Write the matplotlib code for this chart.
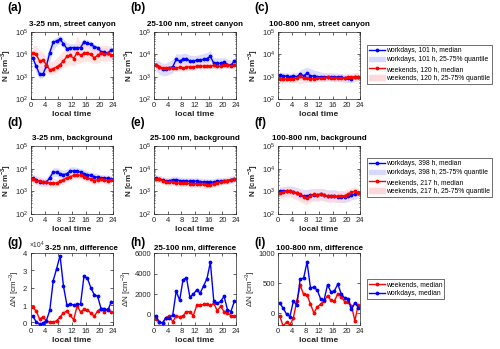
import matplotlib
matplotlib.use("Agg")
import matplotlib.pyplot as plt
from matplotlib.lines import Line2D
from matplotlib.patches import Patch
from matplotlib.ticker import ScalarFormatter, LogLocator, NullFormatter
import numpy as np

plt.rcParams['font.family'] = ['Liberation Sans', 'DejaVu Sans']
plt.rcParams['mathtext.fontset'] = 'custom'
plt.rcParams['mathtext.rm'] = 'Liberation Sans'
plt.rcParams['mathtext.bf'] = 'Liberation Sans:bold'

hours = np.arange(0.5, 24, 1.0)

# (a) 3-25 nm, street canyon
a_wd = [7e3, 3e3, 1.3e3, 1.3e3, 3e3, 1.2e4, 3.5e4, 4e4, 4.7e4, 3e4, 1.8e4, 2e4,
        2e4, 2e4, 2e4, 3.5e4, 3.2e4, 2.8e4, 2.2e4, 2e4, 1.3e4, 1.3e4, 1.1e4, 1.6e4]
a_wd_lo = [4e3, 1.5e3, 8e2, 9e2, 1.5e3, 5e3, 1.5e4, 2.5e4, 3e4, 2e4, 1.2e4, 1.2e4,
           1.2e4, 1.2e4, 1.3e4, 2e4, 2e4, 1.5e4, 1.2e4, 1e4, 8e3, 8e3, 7e3, 9e3]
a_wd_hi = [1.5e4, 6e3, 3e3, 3e3, 8e3, 2.5e4, 5e4, 6e4, 7e4, 5e4, 3.5e4, 3e4,
           3e4, 3e4, 3.5e4, 5e4, 4.5e4, 4e4, 3e4, 2.5e4, 2e4, 2e4, 1.8e4, 2.5e4]
a_we = [1.2e4, 1e4, 5e3, 5.5e3, 3.5e3, 2e3, 2.3e3, 2.7e3, 3.5e3, 5e3, 8e3, 9e3,
        6.5e3, 1.2e4, 9e3, 1.1e4, 1.1e4, 1e4, 7e3, 9e3, 1.1e4, 1e4, 1.1e4, 9.5e3]
a_we_lo = [6e3, 3e3, 2e3, 2e3, 1.5e3, 1.2e3, 1.3e3, 1.5e3, 2e3, 2.5e3, 3e3, 3.5e3,
           3e3, 4e3, 4e3, 5e3, 5e3, 4.5e3, 4e3, 4e3, 5e3, 5e3, 5e3, 5e3]
a_we_hi = [2.5e4, 2.5e4, 1.5e4, 1.2e4, 8e3, 5e3, 5e3, 7e3, 1e4, 1.5e4, 2e4, 2.5e4,
           2e4, 7e4, 3e4, 2.5e4, 2.5e4, 2e4, 1.8e4, 2e4, 2.5e4, 2.5e4, 2.5e4, 2e4]

# (b) 25-100 nm, street canyon
b_wd = [3.5e3, 2.8e3, 2.2e3, 2.2e3, 2.5e3, 2.8e3, 6e3, 5e3, 6e3, 6.5e3, 5e3, 5e3,
        5.5e3, 5.5e3, 6e3, 6.5e3, 8e3, 4e3, 4e3, 4e3, 4.5e3, 3.5e3, 3.2e3, 5e3]
b_wd_lo = [2e3, 1.3e3, 1.1e3, 1.1e3, 1.3e3, 1.5e3, 3.5e3, 3e3, 3.5e3, 3.5e3, 3e3, 3e3,
           3e3, 3.2e3, 3.5e3, 4e3, 5e3, 2.8e3, 2.8e3, 2.8e3, 3e3, 2.5e3, 2.3e3, 3e3]
b_wd_hi = [6e3, 5e3, 4e3, 4e3, 5e3, 6e3, 1.1e4, 1e4, 1.1e4, 1.1e4, 9e3, 9e3,
           9e3, 1e4, 1.1e4, 1.2e4, 1.5e4, 7e3, 7e3, 7e3, 7e3, 6e3, 5.5e3, 7e3]
b_we = [3.2e3, 2.6e3, 2.4e3, 2.4e3, 2.5e3, 2.4e3, 2.5e3, 2.6e3, 2.5e3, 2.6e3, 2.8e3, 2.6e3,
        3e3, 3e3, 3e3, 3e3, 3e3, 3.2e3, 3e3, 3e3, 3.5e3, 3.3e3, 3.1e3, 3.2e3]
b_we_lo = [2.3e3, 1.8e3, 1.7e3, 1.7e3, 1.8e3, 1.7e3, 1.8e3, 1.8e3, 1.7e3, 1.8e3, 2e3, 1.9e3,
           2.2e3, 2.2e3, 2.2e3, 2.2e3, 2.2e3, 2.3e3, 2.2e3, 2.2e3, 2.5e3, 2.4e3, 2.3e3, 2.3e3]
b_we_hi = [4.5e3, 3.8e3, 3.5e3, 3.5e3, 3.6e3, 3.5e3, 3.8e3, 4e3, 4e3, 4.2e3, 4.5e3, 4.2e3,
           4.5e3, 4.5e3, 4.3e3, 4.3e3, 4.3e3, 4.6e3, 4.3e3, 4.3e3, 5e3, 4.8e3, 4.5e3, 4.6e3]

# (c) 100-800 nm, street canyon
c_wd = [1200, 1100, 1050, 1000, 1100, 1000, 1300, 1100, 1400, 1100, 1050, 1000,
        1000, 950, 1000, 1000, 1000, 950, 950, 850, 850, 800, 1000, 1000]
c_wd_lo = [750, 700, 700, 650, 700, 650, 800, 700, 850, 700, 700, 650,
           650, 650, 650, 650, 650, 600, 600, 550, 550, 550, 650, 650]
c_wd_hi = [1600, 1500, 1500, 1400, 1500, 1500, 2000, 2300, 2700, 2300, 2000, 1800,
           1600, 1500, 1500, 1500, 1500, 1400, 1400, 1300, 1300, 1200, 1500, 1500]
c_we = [750, 750, 800, 800, 800, 850, 1050, 850, 850, 800, 800, 850,
        850, 900, 950, 900, 900, 850, 900, 900, 950, 950, 1000, 950]
c_we_lo = [500, 500, 550, 550, 550, 550, 450, 550, 550, 550, 550, 600,
           600, 600, 650, 600, 600, 600, 600, 600, 650, 650, 650, 650]
c_we_hi = [1100, 1100, 1200, 1200, 1200, 1300, 1500, 1200, 1200, 1200, 1200, 1200,
           1200, 1300, 1300, 1300, 1300, 1300, 1300, 1300, 1400, 1400, 1500, 1400]

# (d) 3-25 nm, background
d_wd = [3.8e3, 3.3e3, 2.7e3, 2.5e3, 2.5e3, 4e3, 7e3, 7e3, 6e3, 5.5e3, 6e3, 8e3,
        8e3, 7.5e3, 7e3, 6e3, 5.5e3, 5e3, 4.5e3, 4.2e3, 4e3, 3.8e3, 3.8e3, 3.5e3]
d_wd_lo = [2.5e3, 2.2e3, 1.8e3, 1.7e3, 1.7e3, 2.5e3, 4.5e3, 4.5e3, 4e3, 3.7e3, 4e3, 5.5e3,
           5.5e3, 5e3, 4.8e3, 4.2e3, 3.8e3, 3.5e3, 3.2e3, 3e3, 2.8e3, 2.7e3, 2.6e3, 2.5e3]
d_wd_hi = [5.5e3, 5e3, 4e3, 3.7e3, 3.7e3, 6.5e3, 1.1e4, 1.1e4, 9.5e3, 8.5e3, 9.5e3, 1.2e4,
           1.2e4, 1.1e4, 1.05e4, 9e3, 8e3, 7e3, 6.5e3, 6e3, 5.5e3, 5.3e3, 5.2e3, 5e3]
d_we = [3.5e3, 3e3, 2.8e3, 2.5e3, 2.5e3, 2.3e3, 2.3e3, 2.3e3, 2.8e3, 3.3e3, 4e3, 4.5e3,
        5e3, 5.5e3, 5e3, 4.5e3, 4e3, 3.5e3, 3e3, 3.3e3, 3.5e3, 3.3e3, 3e3, 3.3e3]
d_we_lo = [2.2e3, 2e3, 1.8e3, 1.6e3, 1.6e3, 1.5e3, 1.5e3, 1.5e3, 1.8e3, 2.1e3, 2.6e3, 3e3,
           3.3e3, 3.6e3, 3.3e3, 3e3, 2.6e3, 2.3e3, 2e3, 2.2e3, 2.3e3, 2.2e3, 2e3, 2.2e3]
d_we_hi = [5.5e3, 4.8e3, 4.4e3, 4e3, 4e3, 3.7e3, 3.7e3, 3.7e3, 4.4e3, 5.2e3, 6.3e3, 7e3,
           8e3, 8.5e3, 8e3, 7e3, 6.3e3, 5.5e3, 4.8e3, 5.2e3, 5.5e3, 5.2e3, 4.8e3, 5.2e3]

# (e) 25-100 nm, background
e_wd = [3.8e3, 3.5e3, 3.2e3, 2.8e3, 3e3, 3.2e3, 3.3e3, 3e3, 2.8e3, 2.8e3, 2.8e3, 2.8e3,
        2.8e3, 2.7e3, 2.6e3, 2.5e3, 2.5e3, 2.6e3, 2.8e3, 2.8e3, 3e3, 3e3, 3.3e3, 3.6e3]
e_wd_lo = [2.7e3, 2.5e3, 2.3e3, 2e3, 2.1e3, 2.3e3, 2.3e3, 2.1e3, 2e3, 2e3, 2e3, 2e3,
           2e3, 1.9e3, 1.8e3, 1.8e3, 1.8e3, 1.8e3, 2e3, 2e3, 2.1e3, 2.1e3, 2.3e3, 2.5e3]
e_wd_hi = [5.3e3, 5e3, 4.5e3, 4e3, 4.2e3, 4.5e3, 4.7e3, 4.3e3, 4e3, 4e3, 4e3, 4e3,
           4e3, 3.8e3, 3.7e3, 3.6e3, 3.6e3, 3.7e3, 4e3, 4e3, 4.2e3, 4.2e3, 4.6e3, 5e3]
e_we = [3.6e3, 3.4e3, 3e3, 2.7e3, 2.6e3, 2.6e3, 2.4e3, 2.3e3, 2.3e3, 2.3e3, 2.2e3, 2.2e3,
        2.2e3, 2.1e3, 2.1e3, 2e3, 2e3, 2.2e3, 2.4e3, 2.6e3, 2.8e3, 3e3, 3.2e3, 3.4e3]
e_we_lo = [2.5e3, 2.4e3, 2.1e3, 1.9e3, 1.8e3, 1.8e3, 1.7e3, 1.6e3, 1.6e3, 1.6e3, 1.5e3, 1.5e3,
           1.5e3, 1.4e3, 1.4e3, 1.4e3, 1.4e3, 1.5e3, 1.7e3, 1.8e3, 2e3, 2.1e3, 2.2e3, 2.4e3]
e_we_hi = [5.2e3, 5e3, 4.4e3, 4e3, 3.8e3, 3.8e3, 3.5e3, 3.4e3, 3.4e3, 3.4e3, 3.2e3, 3.2e3,
           3.2e3, 3.1e3, 3.1e3, 3e3, 3e3, 3.2e3, 3.5e3, 3.8e3, 4.1e3, 4.4e3, 4.7e3, 5e3]

# (f) 100-800 nm, background
f_wd = [1000, 1000, 1050, 1050, 950, 850, 700, 600, 600, 700, 700, 700,
        750, 700, 600, 600, 650, 550, 550, 550, 600, 700, 750, 850]
f_wd_lo = [600, 600, 650, 650, 580, 500, 400, 350, 350, 400, 400, 400,
           430, 400, 350, 350, 380, 320, 320, 320, 350, 420, 450, 520]
f_wd_hi = [1600, 1600, 1700, 1750, 1650, 1500, 1300, 1200, 1200, 1300, 1300, 1300,
           1350, 1300, 1150, 1150, 1200, 1050, 1050, 1000, 1050, 1150, 1250, 1400]
f_we = [850, 950, 1000, 1000, 900, 850, 750, 550, 500, 650, 750, 700,
        750, 700, 600, 600, 600, 600, 600, 650, 750, 900, 1000, 850]
f_we_lo = [480, 520, 560, 560, 480, 420, 340, 280, 260, 320, 380, 360,
           400, 380, 330, 330, 330, 330, 340, 370, 420, 500, 560, 480]
f_we_hi = [1350, 1500, 1550, 1550, 1450, 1350, 1200, 950, 900, 1100, 1200, 1150,
           1200, 1150, 1000, 1000, 1000, 1000, 1000, 1100, 1250, 1450, 1600, 1400]

# (g)-(i) differences street canyon - background
g_we = [0.9e4, 0.65e4, 0.2e4, 0.3e4, 0.1e4, 0.0, 0.0, 0.1e4, 0.3e4, 0.55e4, 0.65e4, 0.4e4,
        0.15e4, 0.95e4, 0.6e4, 0.75e4, 0.7e4, 0.55e4, 0.35e4, 0.65e4, 0.8e4, 0.6e4, 0.75e4, 0.6e4]
g_wd = [0.35e4, 0.05e4, -0.1e4, -0.05e4, 0.1e4, 0.7e4, 2.4e4, 3.1e4, 3.85e4, 2.1e4, 1.0e4, 1.05e4,
        1.0e4, 1.05e4, 1.05e4, 2.65e4, 2.55e4, 2.0e4, 1.6e4, 1.5e4, 0.8e4, 0.8e4, 0.7e4, 1.2e4]
h_we = [-400, -700, -800, -300, -100, -700, -100, -200, -100, 300, 300, -100,
        900, 900, 1000, 1000, 900, 1100, 400, 800, 300, 200, -100, -100]
h_wd = [-100, -700, -800, -300, -300, 0, 2300, 1400, 3400, 3600, 1700, 2000,
        2400, 2100, 2800, 3500, 5100, 1300, 1100, 1300, 1800, 500, 300, 1300]
i_we = [-50, -220, -150, -200, -80, 200, 460, 310, 300, 150, 0, 100,
        150, 200, 290, 210, 200, 320, 270, 190, 180, 120, -130, 140]
i_wd = [170, 80, -20, -60, 200, 130, 570, 580, 850, 420, 430, 380,
        230, 220, 470, 350, 370, 480, 320, 250, 240, 60, 170, 90]

titles = ["3-25 nm, street canyon", "25-100 nm, street canyon", "100-800 nm, street canyon",
          "3-25 nm, background", "25-100 nm, background", "100-800 nm, background",
          "3-25 nm, difference", "25-100 nm, difference", "100-800 nm, difference"]
letters = ["(a)", "(b)", "(c)", "(d)", "(e)", "(f)", "(g)", "(h)", "(i)"]

BLUE = "#0000FF"
RED = "#FF0000"
BLUE_F = "#D9D9FF"
RED_F = "#FFD9D9"
GREY = "#262626"

fig = plt.figure(figsize=(5.0, 3.49), dpi=100)

lefts = [31, 154, 278]
rows = [(32, 99), (146, 214), (253, 325)]
letter_y = [8, 123, 243]
W, H = 500.0, 349.0


def make_ax(r, c):
    top, bot = rows[r]
    ax = fig.add_axes([lefts[c] / W, 1 - bot / H, 82 / W, (bot - top) / H])
    ax.set_xlim(0, 24)
    ax.set_xticks(range(0, 25, 4))
    ax.tick_params(direction="in", length=2, width=0.5, labelsize=5.5,
                   colors=GREY, pad=2, top=True, right=True, which="both")
    for s in ax.spines.values():
        s.set_linewidth(0.5)
        s.set_color(GREY)
    ax.set_xlabel("local time", fontsize=6, fontweight="bold", color=GREY, labelpad=1.5)
    if r == 2 and c == 0:
        # title moved right to make room for the x10^4 offset text
        ax.set_title(titles[r * 3 + c], fontsize=5.8, fontweight="bold", pad=2.5,
                     x=0.17, y=1.0, ha="left")
    elif r == 2:
        ax.set_title(titles[r * 3 + c], fontsize=5.8, fontweight="bold", pad=2.5, y=1.0)
    else:
        ax.set_title(titles[r * 3 + c], fontsize=5.8, fontweight="bold", pad=4, y=1.0)
    fig.text((lefts[c] - 24) / W, 1 - letter_y[r] / H,
             letters[r * 3 + c], fontsize=8.5, fontweight="bold", va="center")
    return ax


conc = [
    (a_wd, a_wd_lo, a_wd_hi, a_we, a_we_lo, a_we_hi),
    (b_wd, b_wd_lo, b_wd_hi, b_we, b_we_lo, b_we_hi),
    (c_wd, c_wd_lo, c_wd_hi, c_we, c_we_lo, c_we_hi),
    (d_wd, d_wd_lo, d_wd_hi, d_we, d_we_lo, d_we_hi),
    (e_wd, e_wd_lo, e_wd_hi, e_we, e_we_lo, e_we_hi),
    (f_wd, f_wd_lo, f_wd_hi, f_we, f_we_lo, f_we_hi),
]

for k, (wd, wdl, wdh, we, wel, weh) in enumerate(conc):
    r, c = divmod(k, 3)
    ax = make_ax(r, c)
    ax.set_yscale("log")
    ax.set_ylim(1e2, 1e5)
    ax.set_yticks([1e2, 1e3, 1e4, 1e5])
    ax.yaxis.set_minor_locator(LogLocator(subs=np.arange(2, 10), numticks=20))
    ax.yaxis.set_minor_formatter(NullFormatter())
    ax.tick_params(which="minor", length=1)
    ax.fill_between(hours, wdl, wdh, color=BLUE_F, alpha=0.9, lw=0)
    ax.fill_between(hours, wel, weh, color=RED_F, alpha=0.7, lw=0)
    ax.plot(hours, wd, color=BLUE, lw=1.0, marker=".", ms=3.5)
    ax.plot(hours, we, color=RED, lw=1.0, marker=".", ms=3.5)
    ax.set_ylabel("N [cm$^{\\mathbf{-3}}$]", fontsize=5.8, fontweight="bold",
                  color=GREY, labelpad=1)

diffs = [(g_we, g_wd, (-0.15e4, 4e4), [0, 1e4, 2e4, 3e4, 4e4]),
         (h_we, h_wd, (-1000, 6000), [0, 2000, 4000, 6000]),
         (i_we, i_wd, (-200, 1000), [0, 500, 1000])]
for c, (we, wd, yl, yt) in enumerate(diffs):
    ax = make_ax(2, c)
    ax.plot(hours, we, color=RED, lw=1.0, marker=".", ms=3.5)
    ax.plot(hours, wd, color=BLUE, lw=1.0, marker=".", ms=3.5)
    ax.set_ylim(*yl)
    ax.set_yticks(yt)
    if c == 0:
        fmt = ScalarFormatter(useMathText=True)
        fmt.set_powerlimits((0, 0))
        ax.yaxis.set_major_formatter(fmt)
        off = ax.yaxis.get_offset_text()
        off.set_fontsize(4.8)
        off.set_color(GREY)
        off.set_x(-0.03)
    ax.set_ylabel("ΔN [cm$^{-3}$]", fontsize=5.8, color=GREY, labelpad=1)

# legends
leg_kw = dict(fontsize=4.9, frameon=True, fancybox=False, edgecolor="black",
              handlelength=2.3, handletextpad=0.15, labelspacing=0.35, borderpad=0.3,
              borderaxespad=0)


def med(col):
    return Line2D([], [], color=col, lw=1.0, marker=".", ms=3.5)


l1 = fig.legend([med(BLUE), Patch(color=BLUE_F), med(RED), Patch(color=RED_F)],
                ["workdays, 101 h, median", "workdays, 101 h, 25-75% quantile",
                 "weekends, 120 h, median", "weekends, 120 h, 25-75% quantile"],
                loc="upper left", bbox_to_anchor=(367 / W, 1 - 45 / H), **leg_kw)
l1.get_frame().set_linewidth(0.5)
l2 = fig.legend([med(BLUE), Patch(color=BLUE_F), med(RED), Patch(color=RED_F)],
                ["workdays, 398 h, median", "workdays, 398 h, 25-75% quantile",
                 "weekends, 217 h, median", "weekends, 217 h, 25-75% quantile"],
                loc="upper left", bbox_to_anchor=(367 / W, 1 - 158 / H), **leg_kw)
l2.get_frame().set_linewidth(0.5)
l3 = fig.legend([med(RED), med(BLUE)], ["weekends, median", "workdays, median"],
                loc="upper left", bbox_to_anchor=(367 / W, 1 - 279 / H), **leg_kw)
l3.get_frame().set_linewidth(0.5)

fig.savefig("out.png", dpi=100)
